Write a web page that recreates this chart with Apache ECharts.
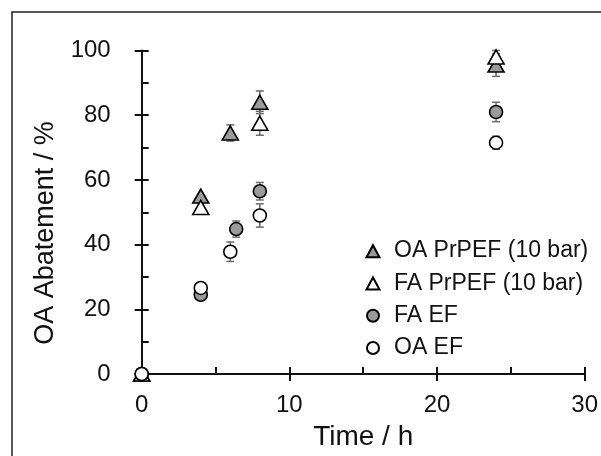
<!DOCTYPE html>
<html>
<head>
<meta charset="utf-8">
<script src="https://cdn.jsdelivr.net/npm/echarts@6/dist/echarts.min.js"></script>
<style>
  html, body { margin: 0; padding: 0; background: #fff; }
  #chart { width: 601px; height: 456px; }
</style>
</head>
<body>
<div id="chart"></div>
<script>
// values
const oaPrpefTime = [0, 4, 6, 8, 24]
const oaPrpefVal = [0, 55, 74.5, 84, 95.5]
const oaPrpefErr = [0, 0, 2.5, 3.5, 3.5]

const faPrpefTime = [0, 4, 8, 24]
const faPrpefVal = [0, 51.5, 77.5, 98]
const faPrpefErr = [0, 0, 3.7, 2]

const faEfTime = [0, 4, 6.4, 8, 24]
const faEfVal = [0, 24.5, 44.8, 56.5, 81]
const faEfErr = [0, 0, 2.5, 2.7, 3]

const oaEfTime = [0, 4, 6, 8, 24]
const oaEfVal = [0, 26.6, 37.8, 49, 71.5]
const oaEfErr = [0, 0, 3, 3.6, 2]

const seriesNames = ['OA PrPEF (10 bar)', 'FA PrPEF (10 bar)', 'FA EF', 'OA EF']

const font = 'Liberation Sans, Arial, sans-serif'
const grey = '#9a9a9a'
const ink = '#111'

const pairs = (t, v) => t.map((x, i) => [x, v[i]])

// error bars: only points with an error value
const errData = (t, v, e) => t.map((x, i) => [x, v[i] - e[i], v[i] + e[i]]).filter((d, i) => e[i] > 0)

const renderErr = (params, api) => {
  const x = api.value(0)
  const lo = api.coord([x, api.value(1)])
  const hi = api.coord([x, api.value(2)])
  const w = 4
  const style = { stroke: '#6a6a6a', lineWidth: 1.5 }
  return {
    type: 'group',
    children: [
      { type: 'line', shape: { x1: lo[0], y1: lo[1], x2: hi[0], y2: hi[1] }, style },
      { type: 'line', shape: { x1: lo[0] - w, y1: lo[1], x2: lo[0] + w, y2: lo[1] }, style },
      { type: 'line', shape: { x1: hi[0] - w, y1: hi[1], x2: hi[0] + w, y2: hi[1] }, style }
    ]
  }
}

const errSeries = (data) => ({
  type: 'custom',
  renderItem: renderErr,
  encode: { x: 0, y: [1, 2] },
  data: data,
  z: 1,
  silent: true
})

// extra tick-only axes: outward major ticks and inward minor ticks
const tickAxis = (min, max, interval, position, inside) => ({
  type: 'value',
  min: min,
  max: max,
  interval: interval,
  position: position,
  offset: 0,
  axisLine: { show: false },
  axisTick: { show: true, inside: inside, length: 7, lineStyle: { color: ink, width: 2 } },
  axisLabel: { show: false },
  splitLine: { show: false }
})

const chart = echarts.init(document.getElementById('chart'), null, { renderer: 'canvas' })

const option = {
  animation: false,
  backgroundColor: '#fff',
  textStyle: { fontFamily: font },
  grid: { left: 141.7, right: 9.3, top: 50.5, bottom: 78 },
  legend: {
    data: seriesNames,
    orient: 'vertical',
    left: 360.5,
    top: 234.5,
    itemWidth: 13,
    itemHeight: 12,
    itemGap: 9,
    textStyle: { fontFamily: font, fontSize: 23, lineHeight: 23.3, color: ink, padding: [0, 0, 0, 9.5] }
  },
  xAxis: [
    {
      type: 'value',
      min: 0,
      max: 30,
      interval: 10,
      position: 'bottom',
      name: 'Time / h',
      nameLocation: 'middle',
      nameGap: 49,
      nameTextStyle: { fontFamily: font, fontSize: 28, color: ink },
      axisLine: { show: true, lineStyle: { color: ink, width: 2 } },
      axisTick: { show: true, inside: true, length: 7, lineStyle: { color: ink, width: 2 } },
      axisLabel: { margin: 19, fontFamily: font, fontSize: 24, color: ink },
      splitLine: { show: false }
    },
    tickAxis(0, 30, 10, 'bottom', false),
    tickAxis(0, 30, 5, 'bottom', true)
  ],
  yAxis: [
    {
      type: 'value',
      min: 0,
      max: 100,
      interval: 20,
      position: 'left',
      axisLine: { show: true, lineStyle: { color: ink, width: 2 } },
      axisTick: { show: true, inside: true, length: 7, lineStyle: { color: ink, width: 2 } },
      axisLabel: { margin: 31, fontFamily: font, fontSize: 24, color: ink },
      splitLine: { show: false }
    },
    tickAxis(0, 100, 20, 'left', false),
    tickAxis(0, 100, 10, 'left', true)
  ],
  graphic: [
    {
      type: 'rect',
      shape: { x: 12, y: 12, width: 700, height: 700 },
      style: { fill: 'none', stroke: '#222', lineWidth: 1.5 },
      silent: true
    },
    {
      type: 'text',
      x: 46,
      y: 233,
      rotation: Math.PI / 2,
      style: {
        text: 'OA Abatement / %',
        fontFamily: font,
        fontSize: 27,
        fill: ink,
        align: 'center',
        verticalAlign: 'middle'
      },
      silent: true
    }
  ],
  series: [
    errSeries(errData(oaPrpefTime, oaPrpefVal, oaPrpefErr)),
    errSeries(errData(faPrpefTime, faPrpefVal, faPrpefErr)),
    errSeries(errData(faEfTime, faEfVal, faEfErr)),
    errSeries(errData(oaEfTime, oaEfVal, oaEfErr)),
    {
      name: seriesNames[0],
      type: 'scatter',
      symbol: 'triangle',
      symbolSize: [16, 14],
      itemStyle: { color: grey, borderColor: '#000', borderWidth: 1.6, opacity: 1 },
      data: pairs(oaPrpefTime, oaPrpefVal),
      z: 2
    },
    {
      name: seriesNames[1],
      type: 'scatter',
      symbol: 'triangle',
      symbolSize: [16, 14],
      itemStyle: { color: '#fff', borderColor: '#000', borderWidth: 1.6, opacity: 1 },
      data: pairs(faPrpefTime, faPrpefVal),
      z: 3
    },
    {
      name: seriesNames[2],
      type: 'scatter',
      symbol: 'circle',
      symbolSize: 13,
      itemStyle: { color: grey, borderColor: '#000', borderWidth: 1.6, opacity: 1 },
      data: pairs(faEfTime, faEfVal),
      z: 4
    },
    {
      name: seriesNames[3],
      type: 'scatter',
      symbol: 'circle',
      symbolSize: 13,
      itemStyle: { color: '#fff', borderColor: '#000', borderWidth: 1.6, opacity: 1 },
      data: pairs(oaEfTime, oaEfVal),
      z: 5
    }
  ]
}

chart.setOption(option)
</script>
</body>
</html>
